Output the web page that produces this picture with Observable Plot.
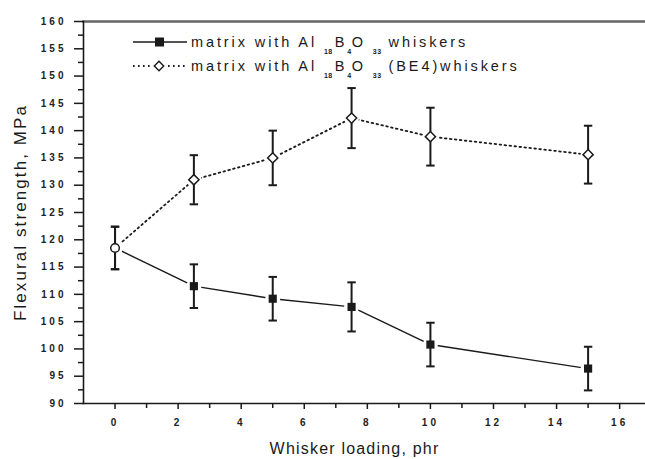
<!DOCTYPE html>
<html>
<head>
<meta charset="utf-8">
<script src="https://cdn.jsdelivr.net/npm/d3@7"></script>
<script src="https://cdn.jsdelivr.net/npm/@observablehq/plot@0.6"></script>
<style>
  html, body { margin: 0; padding: 0; background: #fff; }
  #chart svg { display: block; font-family: "Liberation Sans", Arial, sans-serif; }
  #chart g[aria-label="y-axis tick label"] text,
  #chart g[aria-label="x-axis tick label"] text { font-weight: bold; font-size: 10px; letter-spacing: 3px; fill: #222; }
</style>
</head>
<body>
<div id="chart"></div>
<script>
// ---- data ----
const loading = [0, 2.5, 5, 7.5, 10, 15];
const plainStrength = [118.5, 111.5, 109.2, 107.7, 100.8, 96.4];
const plainError = [3.9, 4.0, 4.0, 4.5, 4.0, 4.0];
const be4Strength = [118.5, 131.0, 135.0, 142.3, 138.9, 135.6];
const be4Error = [3.9, 4.5, 5.0, 5.5, 5.3, 5.3];
const yMajorTicks = [90, 95, 100, 105, 110, 115, 120, 125, 130, 135, 140, 145, 150, 155, 160];
const yMinorTicks = [92.5, 97.5, 102.5, 107.5, 112.5, 117.5, 122.5, 127.5, 132.5, 137.5, 142.5, 147.5, 152.5, 157.5];
const xMajorTicks = [0, 2, 4, 6, 8, 10, 12, 14, 16];
const xMinorTicks = [1, 3, 5, 7, 9, 11, 13, 15];
const xTitle = "Whisker loading, phr";
const yTitle = "Flexural strength, MPa";

const plain = loading.map((x, i) => ({x, y: plainStrength[i], lo: plainStrength[i] - plainError[i], hi: plainStrength[i] + plainError[i]}));
const be4 = loading.map((x, i) => ({x, y: be4Strength[i], lo: be4Strength[i] - be4Error[i], hi: be4Strength[i] + be4Error[i]}));

const cap = {draw(ctx, size) { const r = Math.sqrt(size / Math.PI); ctx.moveTo(-r, 0); ctx.lineTo(r, 0); }};
const ink = "#1a1a1a";

const bars = (data) => [
  Plot.ruleX(data, {x: "x", y1: "lo", y2: "hi", stroke: ink, strokeWidth: 2}),
  Plot.dot(data, {x: "x", y: "lo", symbol: cap, r: 4.2, stroke: ink, strokeWidth: 2}),
  Plot.dot(data, {x: "x", y: "hi", symbol: cap, r: 4.2, stroke: ink, strokeWidth: 2})
];

const chart = Plot.plot({
  width: 645,
  height: 459,
  marginLeft: 83,
  marginRight: 0,
  marginTop: 21,
  marginBottom: 56,
  x: {domain: [-1, 16.82]},
  y: {domain: [90, 160]},
  marks: [
    Plot.frame({anchor: "top", stroke: "#666", strokeWidth: 2.5}),
    Plot.frame({anchor: "bottom", stroke: ink, strokeWidth: 1.6}),
    Plot.frame({anchor: "left", stroke: ink, strokeWidth: 1.6}),
    Plot.axisY({ticks: yMajorTicks, tickSize: 9, tickPadding: 8, tickFormat: d => String(d), stroke: ink, strokeWidth: 1.5, label: null}),
    Plot.axisY({ticks: yMinorTicks, tickSize: 5, tickFormat: () => "", stroke: ink, strokeWidth: 1.5, label: null}),
    Plot.axisX({ticks: xMajorTicks, tickSize: 6, tickPadding: 9, tickFormat: d => String(d), stroke: ink, strokeWidth: 1.5, label: null}),
    Plot.axisX({ticks: xMinorTicks, tickSize: 5, tickFormat: () => "", stroke: ink, strokeWidth: 1.5, label: null}),
    // lines
    Plot.line(plain, {x: "x", y: "y", stroke: ink, strokeWidth: 1.4}),
    Plot.line(be4, {x: "x", y: "y", stroke: ink, strokeWidth: 1.8, strokeDasharray: "1.6,3.4"}),
    // halos to create gaps at markers
    Plot.dot(plain, {x: "x", y: "y", r: 7.5, fill: "white", stroke: null}),
    Plot.dot(be4, {x: "x", y: "y", r: 7.5, fill: "white", stroke: null}),
    // error bars
    ...bars(plain),
    ...bars(be4),
    // markers
    Plot.dot(plain.filter(d => d.x > 0), {x: "x", y: "y", symbol: "square", r: 4.6, fill: ink, stroke: null}),
    Plot.dot(be4.filter(d => d.x > 0), {x: "x", y: "y", symbol: "diamond2", r: 4.6, fill: "white", stroke: ink, strokeWidth: 1.5}),
    Plot.dot(be4.filter(d => d.x === 0), {x: "x", y: "y", symbol: "circle", r: 4.3, fill: "white", stroke: ink, strokeWidth: 1.5}),
    // axis titles
    Plot.text([xTitle], {frameAnchor: "bottom", textAnchor: "middle", dx: -10, dy: 50, fontSize: 16, fill: ink, text: d => d}),
    Plot.text([yTitle], {frameAnchor: "left", textAnchor: "middle", rotate: -90, dx: -63, fontSize: 17, fill: ink, text: d => d})
  ]
});

document.getElementById("chart").appendChild(chart);

// letter-spacing on titles
d3.select(chart).selectAll('g[aria-label="text"] text').style("letter-spacing", "1.2px");
d3.select(chart).selectAll('g[aria-label="text"] text').filter(function() { return this.textContent === yTitle; }).style("letter-spacing", "2.1px");

// ---- legend ----
const svg = d3.select(chart);
const lg = svg.append("g").attr("font-family", "Liberation Sans, Arial, sans-serif").attr("fill", ink).attr("text-anchor", "start");
const legendItems = [
  {sub: ["18", "4", "33"], tail: " whiskers", dash: null, y: 42, marker: "square"},
  {sub: ["18", "4", "33"], tail: " (BE4)whiskers", dash: "1.6,3.4", y: 66, marker: "diamond"}
];
legendItems.forEach(it => {
  lg.append("line").attr("x1", 133).attr("x2", 187).attr("y1", it.y).attr("y2", it.y)
    .attr("stroke", ink).attr("stroke-width", it.dash ? 1.8 : 1.6).attr("stroke-dasharray", it.dash);
  if (it.marker === "square") {
    lg.append("rect").attr("x", 155).attr("y", it.y - 4.5).attr("width", 9).attr("height", 9).attr("fill", ink);
  } else {
    lg.append("circle").attr("cx", 159).attr("cy", it.y).attr("r", 6).attr("fill", "white");
    lg.append("path").attr("d", d3.symbol(d3.symbolDiamond2, 56)()).attr("transform", `translate(159,${it.y})`)
      .attr("fill", "white").attr("stroke", ink).attr("stroke-width", 1.4);
  }
  const t = lg.append("text").attr("x", 191).attr("y", it.y + 5).attr("font-size", 14.5).style("letter-spacing", "2.9px");
  t.append("tspan").text("matrix with Al ");
  t.append("tspan").attr("font-size", 7).attr("font-weight", "bold").attr("dy", 7).style("letter-spacing", "0.5px").text(it.sub[0]);
  t.append("tspan").attr("dy", -7).attr("dx", 2).text("B");
  t.append("tspan").attr("font-size", 7).attr("font-weight", "bold").attr("dy", 7).style("letter-spacing", "0.5px").text(it.sub[1]);
  t.append("tspan").attr("dy", -7).text("O ");
  t.append("tspan").attr("font-size", 7).attr("font-weight", "bold").attr("dy", 7).style("letter-spacing", "0.5px").text(it.sub[2]);
  t.append("tspan").attr("dy", -7).text(it.tail);
});
</script>
</body>
</html>
